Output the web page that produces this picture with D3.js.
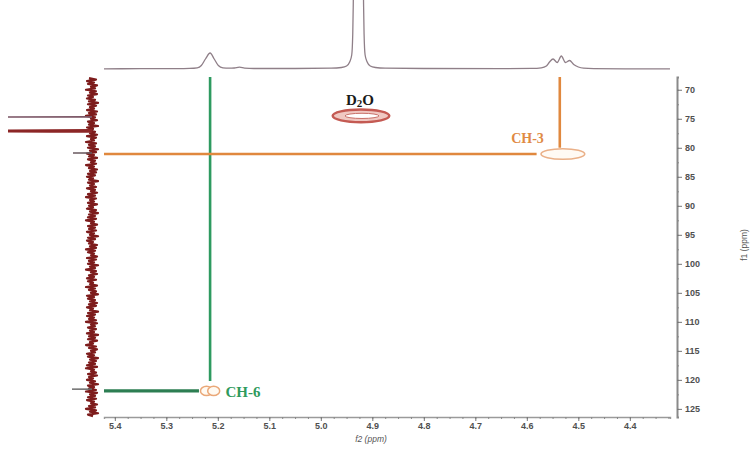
<!DOCTYPE html>
<html>
<head>
<meta charset="utf-8">
<script src="https://cdn.jsdelivr.net/npm/d3@7"></script>
<style>
  html, body { margin: 0; padding: 0; background: #fff; }
  svg { display: block; }
</style>
</head>
<body>
<svg id="chart" width="753" height="450"></svg>
<script>
// ---- axis ranges and tick labels (ppm) ----
const f2Domain = [5.421, 4.322];            // 1H, reversed as usual
const f1Domain = [67.8, 126.4];             // 13C
const f2Ticks = [5.4, 5.3, 5.2, 5.1, 5.0, 4.9, 4.8, 4.7, 4.6, 4.5, 4.4];
const f1Ticks = [70, 75, 80, 85, 90, 95, 100, 105, 110, 115, 120, 125];

// ---- 1H projection (top trace): [ppm, intensity] ----
const f2Trace = [
  [5.421, 0.2], [5.35, 0.3], [5.28, 0.4], [5.255, 0.6], [5.24, 1.2], [5.232, 3.5],
  [5.224, 10], [5.215, 16], [5.207, 10], [5.199, 3.5], [5.19, 1.2], [5.178, 0.8],
  [5.168, 1.0], [5.158, 1.8], [5.148, 0.9], [5.13, 0.5], [5.05, 0.5], [4.98, 0.8],
  [4.96, 1.5], [4.95, 3], [4.944, 7], [4.940, 14], [4.938, 35], [4.937, 65],
  [4.934, 200], [4.927, 900], [4.920, 200], [4.917, 65], [4.916, 35], [4.914, 14],
  [4.910, 7], [4.904, 3], [4.894, 1.5], [4.875, 0.8], [4.8, 0.5], [4.65, 0.4],
  [4.59, 0.6], [4.572, 1.2], [4.562, 3], [4.556, 7], [4.549, 10], [4.541, 6.5],
  [4.533, 13], [4.525, 6.5], [4.517, 8.5], [4.509, 4.5], [4.5, 2], [4.49, 0.8],
  [4.47, 0.4], [4.4, 0.2], [4.322, 0.1]
];

// ---- 13C projection (left trace): noise samples from 68 ppm, step 0.25 ppm ----
const f1NoiseStart = 68.0;
const f1NoiseStep = 0.25;
const f1Noise = [
  3, -4, 5, -2, 4, -5, 1, -3, 6, -4, 2, -5, 4, -1, 5, -3, 3, -6, 4, -4,
  2, -2, 5, -5, 3, -4, 6, -3, 1, -5, 4, -2, 3, -6, 5, -1, 4, -3, 2, -5,
  5, -4, 1, -2, 6, -4, 3, -3, 4, -6, 2, -4, 5, -2, 3, -5, 4, -3, 1, -4,
  6, -2, 3, -5, 2, -4, 4, -3, 5, -1, 3, -6, 4, -2, 2, -4, 5, -3, 1, -5,
  4, -3, 6, -4, 2, -2, 4, -5, 3, -1, 5, -4, 2, -6, 3, -3, 4, -4, 6, -2,
  1, -5, 4, -3, 3, -4, 5, -2, 2, -6, 4, -3, 5, -1, 3, -5, 2, -4, 6, -3,
  4, -2, 1, -5, 5, -4, 3, -2, 4, -6, 2, -3, 6, -4, 1, -5, 3, -2, 5, -4,
  4, -1, 2, -5, 6, -3, 3, -4, 1, -6, 5, -2, 4, -3, 2, -5, 3, -4, 5, -1,
  2, -6, 4, -3, 5, -2, 3, -4, 6, -5, 1, -3, 4, -4, 2, -2, 5, -6, 3, -3,
  4, -5, 2, -1, 6, -4, 3, -5, 1, -3, 5, -2, 4, -6, 2, -4, 3, -3, 5, -5,
  6, -2, 1, -4, 4, -5, 3, -1, 5, -3, 2, -6, 4, -2, 3, -4, 6, -5, 2, -3,
  4, -4, 5, -2, 1, -5, 3, -3, 6, -4, 2, -6, 4, -1
];
// peaks rising out of the 13C projection: ppm, height, width (ppm)
const f1Peaks = [
  { ppm: 74.7, height: 84, width: 0.1, color: "#7a5464", lw: 1.4 },
  { ppm: 77.1, height: 84, width: 0.2, color: "#8c2626", lw: 3.0 },
  { ppm: 80.9, height: 19, width: 0.1, color: "#6a5a60", lw: 1.0 },
  { ppm: 121.6, height: 20, width: 0.1, color: "#6a6a6a", lw: 1.0 }
];

// ---- HSQC cross peaks ----
const d2oPeak = { label: "D", sub: "2", tail: "O", f2: 4.922, f1: 74.5, w2: 0.11, w1: 2.0 };
const crossPeaks = [
  { label: "CH-3", f2: 4.530, f1: 81.07, w2: 0.085, w1: 1.8, color: "#e3873c", labelColor: "#e08a44" },
  { label: "CH-6", f2: 5.215, f1: 121.9, w2: 0.024, w1: 1.7, color: "#2d9a5e", labelColor: "#2f9a5c" }
];

// ---- layout ----
const svg = d3.select("#chart");
const plot = { left: 104, right: 670, top: 77, bottom: 417 };

const x = d3.scaleLinear().domain(f2Domain).range([plot.left, plot.right]);
const y = d3.scaleLinear().domain(f1Domain).range([plot.top, plot.bottom]);
const topI = d3.scaleLinear().domain([0, 69]).range([69, 0]);   // 1H intensity
const leftI = d3.scaleLinear().domain([0, 84]).range([92, 8]);   // 13C intensity
const pxW = w => Math.abs(x(0) - x(w));   // ppm width -> px along f2
const pxH = h => Math.abs(y(h) - y(0));   // ppm width -> px along f1

const defs = svg.append("defs");
defs.append("clipPath").attr("id", "topClip")
  .append("rect").attr("x", 100).attr("y", 0).attr("width", 576).attr("height", 74);
defs.append("filter").attr("id", "soft").append("feGaussianBlur").attr("stdDeviation", 0.6);
defs.append("filter").attr("id", "haze").append("feGaussianBlur").attr("stdDeviation", 2.2);

// ---- top 1H trace ----
svg.append("path")
  .datum(f2Trace)
  .attr("clip-path", "url(#topClip)")
  .attr("fill", "none")
  .attr("stroke", "#8f7f88")
  .attr("stroke-width", 1.3)
  .attr("d", d3.line().x(d => x(d[0])).y(d => topI(d[1])).curve(d3.curveMonotoneX));

// ---- left 13C trace ----
const noisePts = f1Noise.map((v, i) => [f1NoiseStart + i * f1NoiseStep, v]);
svg.append("path")
  .datum(noisePts)
  .attr("fill", "none")
  .attr("stroke", "#7d1c1c")
  .attr("stroke-width", 2.2)
  .attr("stroke-linejoin", "round")
  .attr("d", d3.line().x(d => leftI(d[1])).y(d => y(d[0])));

svg.append("g").selectAll("path")
  .data(f1Peaks)
  .join("path")
  .attr("fill", "none")
  .attr("stroke", d => d.color)
  .attr("stroke-width", d => d.lw)
  .attr("d", d => d3.line()([
    [leftI(0), y(d.ppm - d.width / 2)],
    [leftI(d.height), y(d.ppm)],
    [leftI(0), y(d.ppm + d.width / 2)]
  ]));

// ---- correlation guide lines ----
const ch3 = crossPeaks[0], ch6 = crossPeaks[1];
const guides = svg.append("g").attr("fill", "none").attr("stroke-linecap", "butt");
guides.append("line")
  .attr("x1", x(ch6.f2)).attr("x2", x(ch6.f2))
  .attr("y1", plot.top).attr("y2", y(ch6.f1 - ch6.w1))
  .attr("stroke", "#2e9a60").attr("stroke-width", 2.6);
guides.append("line")
  .attr("x1", plot.left).attr("x2", x(ch6.f2 + ch6.w2 * 0.9))
  .attr("y1", y(ch6.f1)).attr("y2", y(ch6.f1))
  .attr("stroke", "#2c7e52").attr("stroke-width", 3.2);
guides.append("line")
  .attr("x1", plot.left).attr("x2", x(ch3.f2 + ch3.w2 * 0.6))
  .attr("y1", y(ch3.f1)).attr("y2", y(ch3.f1))
  .attr("stroke", "#e0883e").attr("stroke-width", 2.6);
guides.append("line")
  .attr("x1", x(ch3.f2 + 0.006)).attr("x2", x(ch3.f2 + 0.006))
  .attr("y1", plot.top).attr("y2", y(ch3.f1 - ch3.w1 * 0.6))
  .attr("stroke", "#e0883e").attr("stroke-width", 2.6);

// ---- D2O cross peak ----
const dg = svg.append("g");
const dcx = x(d2oPeak.f2), dcy = y(d2oPeak.f1);
dg.append("line")
  .attr("x1", x(d2oPeak.f2 + 0.11)).attr("x2", x(d2oPeak.f2 + 0.05))
  .attr("y1", dcy).attr("y2", dcy)
  .attr("stroke", "#a8d4ee").attr("stroke-width", 4).attr("filter", "url(#haze)");
dg.append("line")
  .attr("x1", x(d2oPeak.f2 - 0.05)).attr("x2", x(d2oPeak.f2 - 0.1))
  .attr("y1", dcy).attr("y2", dcy)
  .attr("stroke", "#f6d6a0").attr("stroke-width", 4).attr("filter", "url(#haze)");
dg.append("ellipse")
  .attr("cx", dcx).attr("cy", dcy)
  .attr("rx", pxW(d2oPeak.w2) / 2).attr("ry", pxH(d2oPeak.w1) / 2 + 0.5)
  .attr("fill", "#f0c8c2").attr("stroke", "#c45a52").attr("stroke-width", 2.4)
  .attr("filter", "url(#soft)");
dg.append("ellipse")
  .attr("cx", dcx + 1).attr("cy", dcy)
  .attr("rx", pxW(d2oPeak.w2) * 0.3).attr("ry", 2.6)
  .attr("fill", "#ffffff").attr("stroke", "#c87068").attr("stroke-width", 1)
  .attr("filter", "url(#soft)");
const dt = dg.append("text")
  .attr("x", dcx - 1).attr("y", dcy - 11)
  .attr("text-anchor", "middle")
  .attr("font-family", "'Liberation Serif', 'DejaVu Serif', serif")
  .attr("font-weight", "bold").attr("font-size", 15).attr("fill", "#1a1a1a");
dt.append("tspan").text(d2oPeak.label);
dt.append("tspan").attr("font-size", 11).attr("dy", 2).text(d2oPeak.sub);
dt.append("tspan").attr("dy", -2).text(d2oPeak.tail);

// ---- CH-3 cross peak ----
const c3 = svg.append("g");
c3.append("ellipse")
  .attr("cx", x(ch3.f2)).attr("cy", y(ch3.f1))
  .attr("rx", pxW(ch3.w2) / 2)
  .attr("ry", pxH(ch3.w1) / 2)
  .attr("fill", "#fffaf4").attr("stroke", "#eab088").attr("stroke-width", 1.6)
  .attr("filter", "url(#soft)");
c3.append("line")
  .attr("x1", x(ch3.f2 - 0.044)).attr("x2", x(ch3.f2 - 0.06))
  .attr("y1", y(ch3.f1)).attr("y2", y(ch3.f1))
  .attr("stroke", "#f6d8b0").attr("stroke-width", 3).attr("filter", "url(#haze)");
c3.append("text")
  .attr("x", x(ch3.f2 + 0.037)).attr("y", y(ch3.f1) - 11)
  .attr("text-anchor", "end")
  .attr("font-family", "'Liberation Serif', 'DejaVu Serif', serif")
  .attr("font-weight", "bold").attr("font-size", 14).attr("fill", ch3.labelColor)
  .text(ch3.label);

// ---- CH-6 cross peak (doublet) ----
const c6 = svg.append("g");
[ch6.f2 + 0.007, ch6.f2 - 0.007].forEach(p => {
  c6.append("ellipse")
    .attr("cx", x(p)).attr("cy", y(ch6.f1))
    .attr("rx", 6).attr("ry", 4.6)
    .attr("fill", "#fffaf2").attr("stroke", "#eaa878").attr("stroke-width", 1.5)
    .attr("filter", "url(#soft)");
});
c6.append("text")
  .attr("x", x(ch6.f2 - 0.03)).attr("y", y(ch6.f1) + 6)
  .attr("text-anchor", "start")
  .attr("font-family", "'Liberation Serif', 'DejaVu Serif', serif")
  .attr("font-weight", "bold").attr("font-size", 15).attr("fill", ch6.labelColor)
  .text(ch6.label);

// ---- f2 axis (bottom) ----
const tickFont = "'Liberation Sans', 'DejaVu Sans', sans-serif";
const minorF2 = d3.range(0, 45).map(i => +(5.425 - i * 0.025).toFixed(3))
  .filter(v => v <= f2Domain[0] && v >= f2Domain[1]);
svg.append("g")
  .attr("transform", `translate(0,${plot.bottom})`)
  .call(d3.axisBottom(x).tickValues(minorF2).tickSize(2).tickFormat(""))
  .call(g => g.select(".domain").attr("stroke", "#9a9a9a").attr("stroke-width", 1.4))
  .call(g => g.selectAll(".tick line").attr("stroke", "#888"));
svg.append("g")
  .attr("transform", `translate(0,${plot.bottom})`)
  .call(d3.axisBottom(x).tickValues(f2Ticks).tickSize(4).tickFormat(d3.format(".1f")))
  .call(g => g.select(".domain").remove())
  .call(g => g.selectAll(".tick line").attr("stroke", "#777"))
  .call(g => g.selectAll("text").attr("font-family", tickFont).attr("font-size", 9)
    .attr("font-weight", "bold").attr("fill", "#505050").attr("dy", "0.55em"));
svg.append("text")
  .attr("x", 371).attr("y", 442)
  .attr("text-anchor", "middle")
  .attr("font-family", tickFont).attr("font-size", 8.5).attr("fill", "#555")
  .attr("font-style", "italic")
  .text("f2 (ppm)");

// ---- f1 axis (right) ----
const axisX = 677;
const minorF1 = d3.range(0, 25).map(i => 67.5 + i * 2.5)
  .filter(v => v >= f1Domain[0] && v <= f1Domain[1]);
svg.append("g")
  .attr("transform", `translate(${axisX},0)`)
  .call(d3.axisRight(y).tickValues(minorF1).tickSize(2).tickFormat(""))
  .call(g => g.select(".domain").attr("stroke", "#8a8a8a").attr("stroke-width", 2))
  .call(g => g.selectAll(".tick line").attr("stroke", "#888"));
svg.append("g")
  .attr("transform", `translate(${axisX},0)`)
  .call(d3.axisRight(y).tickValues(f1Ticks).tickSize(5))
  .call(g => g.select(".domain").remove())
  .call(g => g.selectAll(".tick line").attr("stroke", "#777"))
  .call(g => g.selectAll("text").attr("font-family", tickFont).attr("font-size", 9)
    .attr("font-weight", "bold").attr("fill", "#505050").attr("x", 8));
svg.append("text")
  .attr("transform", "translate(747,245) rotate(-90)")
  .attr("text-anchor", "middle")
  .attr("font-family", tickFont).attr("font-size", 8.5).attr("fill", "#555")
  .text("f1 (ppm)");
</script>
</body>
</html>
